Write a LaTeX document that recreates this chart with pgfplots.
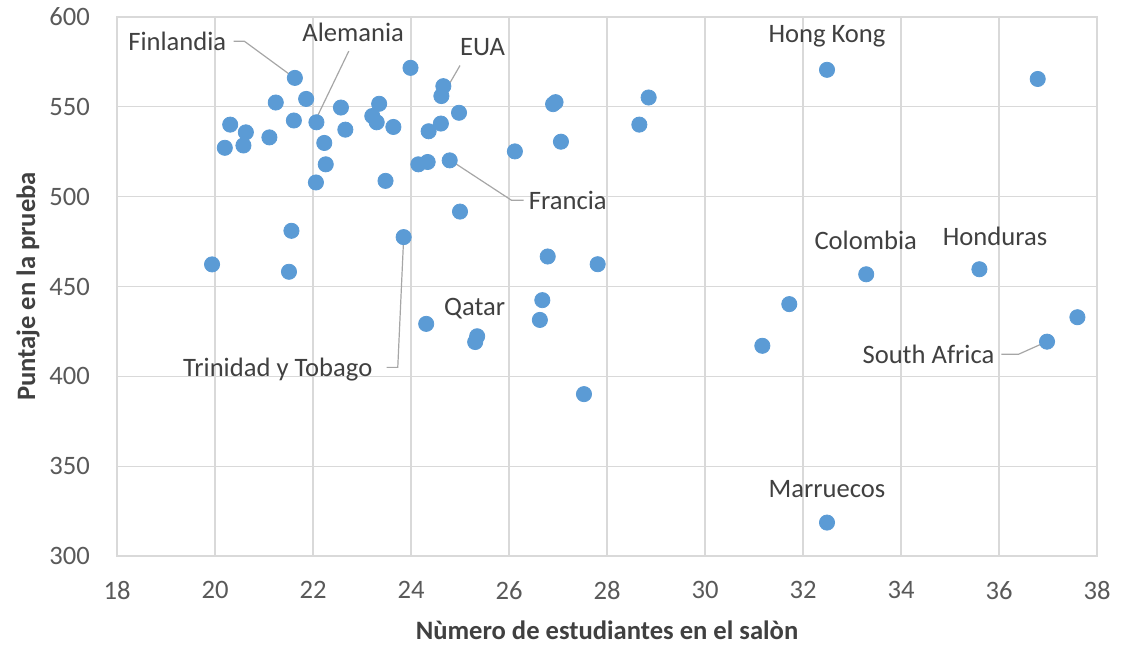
\documentclass[border=0pt]{standalone}
\usepackage{fontspec}
\setmainfont{Carlito}
\usepackage{pgfplots}
\pgfplotsset{compat=1.18}
\definecolor{pt}{HTML}{5B9BD5}
\definecolor{grd}{HTML}{D9D9D9}
\definecolor{txt}{HTML}{595959}
\definecolor{lbl}{HTML}{404040}
\definecolor{ldr}{HTML}{A6A6A6}
\begin{document}
\begin{tikzpicture}
\useasboundingbox (-58.5pt,-44pt) rectangle (506.5pt,278pt);
\begin{axis}[
  scale only axis, width=490pt, height=269.5pt,
  xmin=18, xmax=38, ymin=300, ymax=600,
  xtick={18,20,...,38}, ytick={300,350,...,600},
  grid=major, grid style={grd, line width=0.6pt},
  axis line style={grd, line width=0.6pt},
  tick style={draw=none},
  ticklabel style={font=\fontsize{13.3}{15}\selectfont, text=txt},
  /pgf/number format/assume math mode=true,
  xticklabel style={yshift=-9pt},
  yticklabel style={xshift=-10pt},
  xlabel={Nùmero de estudiantes en el salòn},
  ylabel={Puntaje en la prueba},
  label style={font=\bfseries\fontsize{13.3}{15}\selectfont, text=lbl},
  xlabel style={at={(axis description cs:0.5,0)}, anchor=base, yshift=-41.5pt},
  ylabel style={at={(axis description cs:0,0.5)}, anchor=center, yshift=44.5pt},
  clip=false,
]
\addplot[only marks, mark=*, mark size=3.8pt, mark options={fill=pt, draw=pt}] coordinates {
(21.63,566.1) (21.86,554.4) (21.24,552.4) (22.57,549.6) (23.35,551.7)
(23.99,571.7) (24.66,561.5) (24.62,556.0) (24.98,546.7) (20.31,540.1)
(21.61,542.4) (22.07,541.4) (20.63,535.8) (21.11,533.0) (20.20,527.2)
(20.58,528.5) (22.23,529.9) (22.66,537.3) (23.21,544.9) (23.30,541.4)
(23.64,538.8) (24.36,536.4) (24.61,540.7) (26.12,525.2) (24.15,518.0)
(24.34,519.3) (24.79,520.2) (22.26,518.0) (22.06,507.9) (23.48,508.8)
(25.00,491.7) (21.56,481.0) (23.85,477.5) (19.94,462.3) (21.51,458.2)
(26.90,551.5) (26.95,552.6) (28.85,555.2) (28.66,540.1) (27.06,530.6)
(26.79,466.7) (27.81,462.4) (26.68,442.4) (26.63,431.4) (24.31,429.2)
(25.35,422.3) (25.31,419.1) (27.53,390.1) (32.49,570.6) (36.79,565.5)
(33.29,456.8) (35.60,459.6) (31.72,440.2) (31.17,417.0) (37.60,432.9)
(36.98,419.3) (32.49,318.6)
};
% leader lines
\draw[ldr, line width=0.6pt] (axis cs:20.38,586.5) -- (axis cs:20.6,586.5) -- (axis cs:21.6,566.5);
\draw[ldr, line width=0.6pt] (axis cs:22.73,581) -- (axis cs:22.05,542.5);
\draw[ldr, line width=0.6pt] (axis cs:25.0,573) -- (axis cs:24.65,556.5);
\draw[ldr, line width=0.6pt] (axis cs:26.3,498) -- (axis cs:26.05,498) -- (axis cs:24.82,520);
\draw[ldr, line width=0.6pt] (axis cs:23.5,405) -- (axis cs:23.73,405) -- (axis cs:23.85,477);
\draw[ldr, line width=0.6pt] (axis cs:36.05,412.3) -- (axis cs:36.4,412.3) -- (axis cs:36.95,419);
% labels
\begin{scope}[every node/.style={font=\fontsize{13.3}{15}\selectfont, text=lbl, inner sep=0pt}]
\node at (axis cs:19.23,586.5) {Finlandia};
\node at (axis cs:22.82,591.5) {Alemania};
\node at (axis cs:25.46,583) {EUA};
\node at (axis cs:27.2,498) {Francia};
\node at (axis cs:21.28,404) {Trinidad y Tobago};
\node at (axis cs:25.3,437.9) {Qatar};
\node at (axis cs:32.49,589.3) {Hong Kong};
\node at (axis cs:33.28,475.7) {Colombia};
\node at (axis cs:35.92,478) {Honduras};
\node at (axis cs:34.56,412.3) {South Africa};
\node at (axis cs:32.49,337.2) {Marruecos};
\end{scope}
\end{axis}
\end{tikzpicture}
\end{document}
